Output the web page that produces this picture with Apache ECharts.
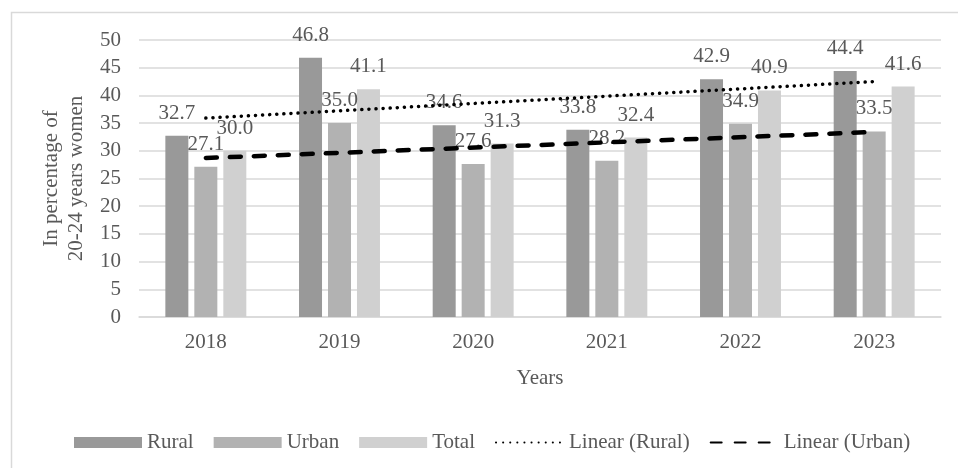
<!DOCTYPE html>
<html>
<head>
<meta charset="utf-8">
<script src="https://cdn.jsdelivr.net/npm/echarts@6/dist/echarts.min.js"></script>
<style>
  html, body { margin: 0; padding: 0; background: #fff; }
  #chart { width: 958px; height: 468px; }
</style>
</head>
<body>
<div id="chart"></div>
<script>
const years = ['2018', '2019', '2020', '2021', '2022', '2023']
const rural = [32.7, 46.8, 34.6, 33.8, 42.9, 44.4]
const urban = [27.1, 35.0, 27.6, 28.2, 34.9, 33.5]
const total = [30.0, 41.1, 31.3, 32.4, 40.9, 41.6]
// trend lines, read at the first and last year only
const linearRural = [35.9, null, null, null, null, 42.5]
const linearUrban = [28.7, null, null, null, null, 33.4]

const font = 'Liberation Serif, Times New Roman, serif'
const textColor = '#595959'
const gridColor = '#d9d9d9'

const chart = echarts.init(document.getElementById('chart'))

function barSeries(name, data, color) {
  return {
    name, type: 'bar', data,
    barWidth: 23, barGap: '26%',
    itemStyle: { color },
    label: {
      show: true, position: 'top', distance: 12,
      formatter: p => p.value.toFixed(1),
      fontFamily: font, fontSize: 21, color: textColor
    },
    z: 2
  }
}

function trendSeries(name, data, type, width) {
  return {
    name, type: 'line', data, connectNulls: true,
    symbol: 'none', silent: true,
    itemStyle: { color: '#000' },
    lineStyle: { color: '#000', width, type, cap: 'round' },
    z: 3
  }
}

chart.setOption({
  animation: false,
  graphic: [{
    type: 'rect', left: 9, top: 10,
    shape: { width: 980, height: 480 },
    style: { fill: 'none', stroke: gridColor, lineWidth: 1.5 }
  }],
  grid: { left: 139, right: 17, top: 40, bottom: 151 },
  legend: {
    left: 69, top: 427,
    itemWidth: 68, itemHeight: 11, itemGap: 20,
    textStyle: { fontFamily: font, fontSize: 21, color: textColor },
    data: [
      { name: 'Rural', icon: 'rect' },
      { name: 'Urban', icon: 'rect' },
      { name: 'Total', icon: 'rect' },
      { name: 'Linear (Rural)', itemStyle: { opacity: 0 } },
      { name: 'Linear (Urban)', itemStyle: { opacity: 0 } }
    ]
  },
  xAxis: {
    type: 'category', data: years,
    name: 'Years', nameLocation: 'middle', nameGap: 51,
    nameTextStyle: { fontFamily: font, fontSize: 21, color: textColor },
    axisLine: { lineStyle: { color: gridColor, width: 1.5 } },
    axisTick: { show: false },
    axisLabel: { fontFamily: font, fontSize: 21, color: textColor, margin: 15 }
  },
  yAxis: {
    type: 'value', min: 0, max: 50, interval: 5,
    name: 'In percentage of\n20-24 years women', nameLocation: 'middle', nameGap: 45,
    nameTextStyle: { fontFamily: font, fontSize: 21, color: textColor, lineHeight: 25 },
    axisLine: { show: false },
    axisTick: { show: false },
    splitLine: { lineStyle: { color: gridColor, width: 1.5 } },
    axisLabel: { fontFamily: font, fontSize: 21, color: textColor, margin: 18 }
  },
  series: [
    barSeries('Rural', rural, '#999999'),
    barSeries('Urban', urban, '#b2b2b2'),
    barSeries('Total', total, '#d0d0d0'),
    trendSeries('Linear (Rural)', linearRural, [0.1, 7], 3.5),
    trendSeries('Linear (Urban)', linearUrban, [11, 13], 4.5)
  ]
})
</script>
</body>
</html>
